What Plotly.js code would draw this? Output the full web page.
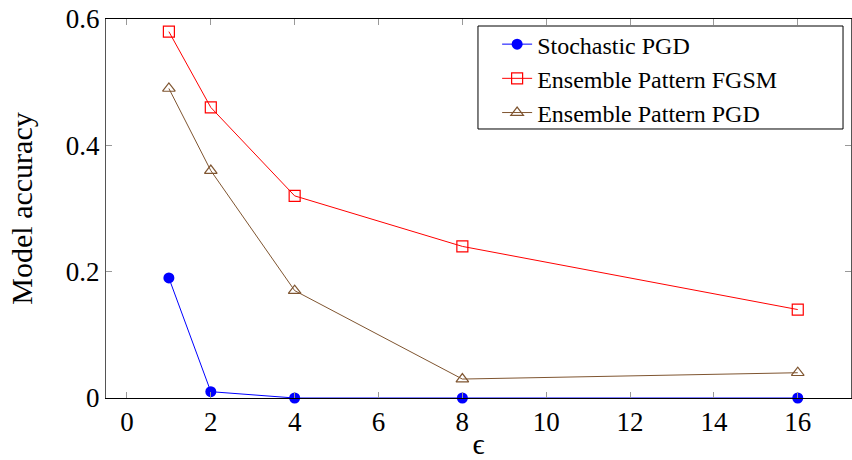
<!DOCTYPE html>
<html><head><meta charset="utf-8">
<script src="https://cdn.plot.ly/plotly-3.0.1.min.js"></script>
<style>body{margin:0;background:#fff}</style>
</head><body><div id="chart" style="width:852px;height:460px"></div>
<script>
const epsilons = [1, 2, 4, 8, 16];
const stochasticPGD = [0.19, 0.01, 0.0, 0.0, 0.0];
const ensembleFGSM = [0.58, 0.46, 0.32, 0.24, 0.14];
const ensemblePGD = [0.49, 0.36, 0.17, 0.03, 0.04];
const seriesNames = ['Stochastic PGD', 'Ensemble Pattern FGSM', 'Ensemble Pattern PGD'];
const xTicks = [0, 2, 4, 6, 8, 10, 12, 14, 16];
const yTicks = [0, 0.2, 0.4, 0.6];
const yTickText = ['0', '0.2', '0.4', '0.6'];

const font = "'Liberation Serif', serif";
const traces = [
  {x: epsilons, y: stochasticPGD, name: seriesNames[0], mode: 'lines+markers', cliponaxis: false,
   line: {color: '#0000ff', width: 1}, marker: {symbol: 'circle', size: 11, color: '#0000ff'}},
  {x: epsilons, y: ensembleFGSM, name: seriesNames[1], mode: 'lines+markers', cliponaxis: false,
   line: {color: '#ff0000', width: 1}, marker: {symbol: 'square-open', size: 11, color: '#ff0000', line: {width: 1.2}}},
  {x: epsilons, y: ensemblePGD, name: seriesNames[2], mode: 'lines+markers', cliponaxis: false,
   line: {color: '#7f5530', width: 1}, marker: {symbol: 'triangle-up-open', size: 11, color: '#7f5530', line: {width: 1.2}}}
];
const layout = {
  width: 852, height: 460,
  margin: {l: 106, r: 1, t: 19, b: 62},
  paper_bgcolor: '#fff', plot_bgcolor: '#fff',
  font: {family: font, size: 25, color: '#000'},
  showlegend: true,
  legend: {x: 0.525, y: 0.992, xanchor: 'left', yanchor: 'top', bgcolor: 'rgba(0,0,0,0)',
           borderwidth: 0, font: {family: font, size: 24},
           tracegroupgap: 0, itemwidth: 30},
  shapes: [{type: 'rect', xref: 'paper', yref: 'paper', x0: 0.4993, x1: 0.9893, y0: 0.7098, y1: 0.9815,
            fillcolor: '#fff', line: {color: '#000', width: 1}, layer: 'above'}],
  xaxis: {range: [-0.5, 17.27], tickvals: xTicks, ticktext: xTicks.map(String),
          showgrid: false, zeroline: false, showline: true, mirror: 'ticks',
          linecolor: '#000', linewidth: 1, ticks: 'inside', ticklen: 6, tickcolor: '#999',
          title: {text: 'ϵ', font: {family: font, size: 30}, standoff: 26},
          tickfont: {family: font, size: 27}},
  yaxis: {range: [0, 0.6], tickvals: yTicks, ticktext: yTickText,
          showgrid: false, zeroline: false, showline: true, mirror: 'ticks',
          linecolor: '#555', linewidth: 1, ticks: 'inside', ticklen: 6, tickcolor: '#999',
          title: {text: 'Model accuracy', font: {family: font, size: 30}, standoff: 24},
          tickfont: {family: font, size: 27}}
};
Plotly.newPlot('chart', traces, layout, {displayModeBar: false});
</script></body></html>
